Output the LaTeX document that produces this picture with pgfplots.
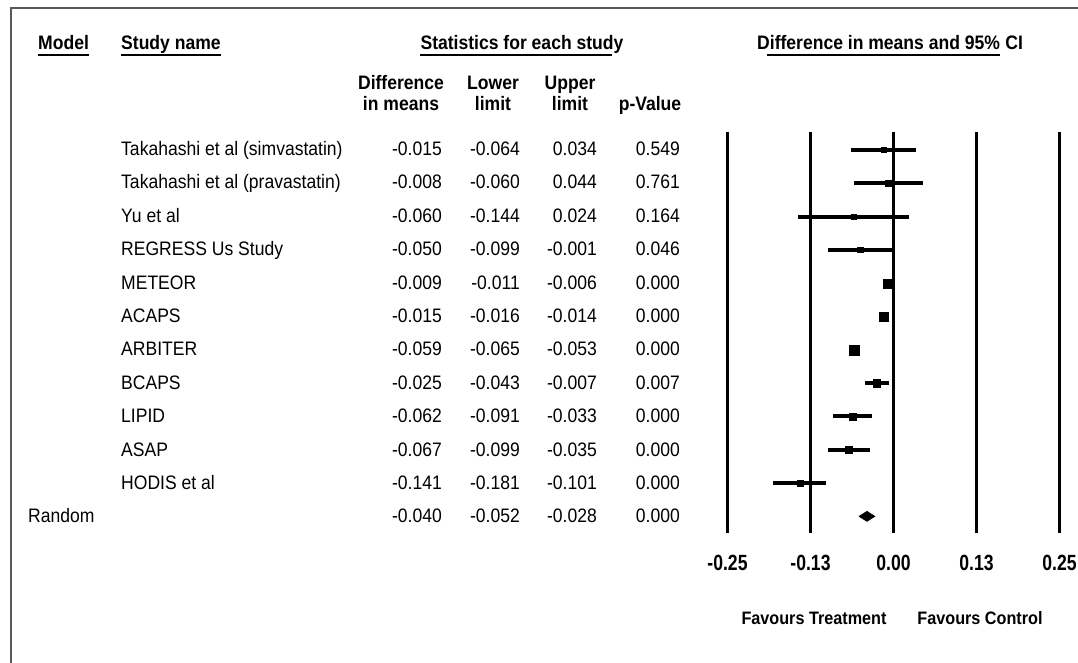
\documentclass[border=0pt]{standalone}
\usepackage{fontspec}
\setmainfont{Liberation Sans}[FakeStretch=0.9]
\newfontfamily\narrowfont{Liberation Sans}[FakeStretch=0.8]
\usepackage{pgfplots}
\pgfplotsset{compat=1.18}
\usepackage{pgfplotstable}

% row = position from top, est/lo/hi = difference in means and 95% CI, ms = marker half-size (pt)
\pgfplotstableread{
row est lo hi ms
1 -0.015 -0.064 0.034 2.7
2 -0.008 -0.060 0.044 2.7
3 -0.060 -0.144 0.024 2.7
4 -0.050 -0.099 -0.001 2.7
5 -0.009 -0.011 -0.006 4.5
6 -0.015 -0.016 -0.014 4.4
7 -0.059 -0.065 -0.053 5.0
8 -0.025 -0.043 -0.007 3.6
9 -0.062 -0.091 -0.033 3.4
10 -0.067 -0.099 -0.035 3.4
11 -0.141 -0.181 -0.101 3.1
}\studies

\newcommand\rowfont{\fontsize{19.5}{22}\selectfont}
\newcommand\hfont{\fontsize{19.5}{22}\selectfont\bfseries}

\begin{document}
\begin{tikzpicture}[x=1pt,y=1pt]
\path[use as bounding box] (0,0) rectangle (1078,663);
% frame
\draw[line width=2pt, black!65] (11,0) -- (11,655) -- (1078,655);

% headers
\node[anchor=base west, inner sep=0, font=\hfont] (m) at (38,613) {Model};
\draw[line width=2.5pt] ([yshift=-5pt]m.base west) -- ([yshift=-5pt]m.base east);
\node[anchor=base west, inner sep=0, font=\hfont] (s) at (121,613) {Study name};
\draw[line width=2.5pt] ([yshift=-5pt]s.base west) -- ([yshift=-5pt]s.base east);
\node[anchor=base, inner sep=0, font=\hfont] (st) at (522,613) {Statistics for each study};
\draw[line width=2.5pt] ([yshift=-5pt]st.base west) -- ([yshift=-5pt,xshift=-12pt]st.base east);
\node[anchor=base west, inner sep=0, font=\hfont] (dm) at (757,613) {Difference in means and 95\%};
\node[anchor=base west, inner sep=0, font=\hfont] at ([xshift=5pt]dm.base east) {CI};
\draw[line width=2.5pt] ([yshift=-5pt,xshift=10pt]dm.base west) -- ([yshift=-5pt]dm.base east);

\node[anchor=base, inner sep=0, font=\hfont] at (401,573) {Difference};
\node[anchor=base, inner sep=0, font=\hfont] at (401,552) {in means};
\node[anchor=base, inner sep=0, font=\hfont] at (493,573) {Lower};
\node[anchor=base, inner sep=0, font=\hfont] at (493,552) {limit};
\node[anchor=base, inner sep=0, font=\hfont] at (570,573) {Upper};
\node[anchor=base, inner sep=0, font=\hfont] at (570,552) {limit};
\node[anchor=base, inner sep=0, font=\hfont] at (650,552) {p-Value};

% table rows
\foreach \i/\name/\d/\l/\u/\p in {
 1/Takahashi et al (simvastatin)/-0.015/-0.064/0.034/0.549,
 2/Takahashi et al (pravastatin)/-0.008/-0.060/0.044/0.761,
 3/Yu et al/-0.060/-0.144/0.024/0.164,
 4/REGRESS Us Study/-0.050/-0.099/-0.001/0.046,
 5/METEOR/-0.009/-0.011/-0.006/0.000,
 6/ACAPS/-0.015/-0.016/-0.014/0.000,
 7/ARBITER/-0.059/-0.065/-0.053/0.000,
 8/BCAPS/-0.025/-0.043/-0.007/0.007,
 9/LIPID/-0.062/-0.091/-0.033/0.000,
 10/ASAP/-0.067/-0.099/-0.035/0.000,
 11/HODIS et al/-0.141/-0.181/-0.101/0.000,
 12/{}/-0.040/-0.052/-0.028/0.000}{
  \pgfmathsetmacro\yb{663-(155.5+(\i-1)*33.4)}
  \node[anchor=base west, inner sep=0, font=\rowfont] at (121,\yb) {\name};
  \node[anchor=base east, inner sep=0, font=\rowfont] at (442,\yb) {\d};
  \node[anchor=base east, inner sep=0, font=\rowfont] at (520,\yb) {\l};
  \node[anchor=base east, inner sep=0, font=\rowfont] at (597,\yb) {\u};
  \node[anchor=base east, inner sep=0, font=\rowfont] at (680,\yb) {\p};
}
\node[anchor=base west, inner sep=0, font=\rowfont] at (28,{663-(155.5+11*33.4)}) {Random};

\begin{axis}[
  at={(727.5pt,130pt)}, anchor=south west,
  scale only axis, width=332pt, height=401pt,
  xmin=-0.25, xmax=0.25, ymin=-12.5, ymax=-0.46,
  axis line style={draw=none},
  xtick={-0.25,-0.125,0,0.125,0.25},
  xticklabels={-0.25,-0.13,0.00,0.13,0.25},
  ytick=\empty,
  major tick length=0pt,
  xmajorgrids,
  major grid style={black, line width=3pt},
  xticklabel style={anchor=center, yshift=-30pt, font=\narrowfont\bfseries\fontsize{22}{24}\selectfont},
  clip=false,
]
\addplot[black, only marks, mark=square*,
  scatter, scatter/use mapped color={draw=black, fill=black},
  visualization depends on={\thisrow{ms} \as \msz},
  scatter/@pre marker code/.append style={/tikz/mark size=\msz},
  error bars/.cd, x dir=both, x explicit, error mark=none,
  error bar style={line width=3.9pt, black}]
  table[x=est, y expr=-\thisrow{row},
        x error plus expr=\thisrow{hi}-\thisrow{est},
        x error minus expr=\thisrow{est}-\thisrow{lo}] {\studies};
% pooled (random effects) diamond: -0.040 [-0.052, -0.028]
\addplot[fill=black, draw=black, line width=0.6pt] coordinates {
  (-0.052,-12) (-0.040,-11.85) (-0.028,-12) (-0.040,-12.15) (-0.052,-12)};
\end{axis}

\node[anchor=center, inner sep=0, font=\fontsize{18}{20}\selectfont\bfseries] at (814,45) {Favours Treatment};
\node[anchor=center, inner sep=0, font=\fontsize{18}{20}\selectfont\bfseries] at (980,45) {Favours Control};
\end{tikzpicture}
\end{document}
